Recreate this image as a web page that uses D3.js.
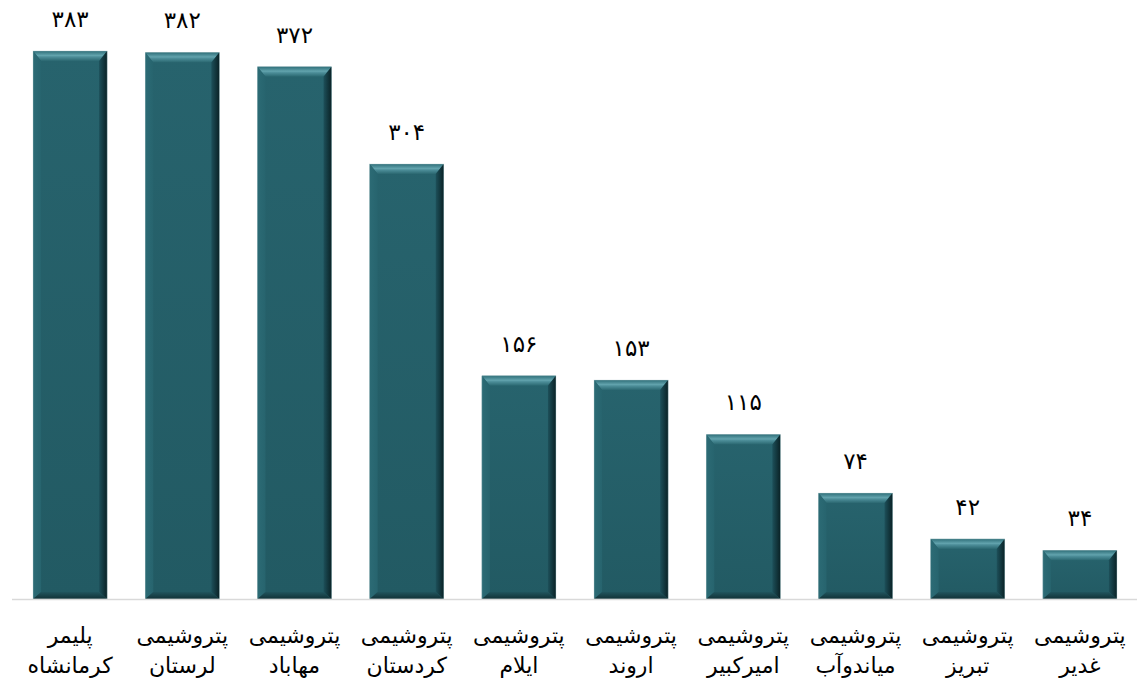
<!DOCTYPE html>
<html>
<head>
<meta charset="utf-8">
<script src="https://cdn.jsdelivr.net/npm/d3@7"></script>
<style>
  body { margin: 0; background: #fff; }
  svg { display: block; }
  text { font-family: "DejaVu Sans", sans-serif; fill: #000; }
</style>
</head>
<body>
<div id="chart"></div>
<script>
// chart data
const companies = [
  ["پلیمر", "کرمانشاه"],
  ["پتروشیمی", "لرستان"],
  ["پتروشیمی", "مهاباد"],
  ["پتروشیمی", "کردستان"],
  ["پتروشیمی", "ایلام"],
  ["پتروشیمی", "اروند"],
  ["پتروشیمی", "امیرکبیر"],
  ["پتروشیمی", "میاندوآب"],
  ["پتروشیمی", "تبریز"],
  ["پتروشیمی", "غدیر"]
];
const values = [383, 382, 372, 304, 156, 153, 115, 74, 42, 34];

const width = 1141, height = 683;
const margin = { top: 51, right: 5, bottom: 84, left: 14 };

const faDigits = "۰۱۲۳۴۵۶۷۸۹";
const toFa = n => String(n).replace(/\d/g, c => faDigits[+c]);

const svg = d3.select("#chart").append("svg")
  .attr("width", width)
  .attr("height", height);

const x = d3.scaleBand()
  .domain(d3.range(companies.length))
  .range([margin.left, width - margin.right])
  .paddingInner(0.34)
  .paddingOuter(0.17);

const y = d3.scaleLinear()
  .domain([0, d3.max(values)])
  .range([height - margin.bottom, margin.top]);

// gradients for the bevel faces
const defs = svg.append("defs");
function grad(id, x2, y2, stops) {
  const g = defs.append("linearGradient").attr("id", id)
    .attr("x1", 0).attr("y1", 0).attr("x2", x2).attr("y2", y2);
  stops.forEach(s => g.append("stop").attr("offset", s[0]).attr("stop-color", s[1]));
}
grad("g-top", 0, 1, [[0, "#2f6f79"], [0.45, "#62a3ad"], [0.6, "#4c8d98"], [1, "#2a6770"]]);
grad("g-left", 1, 0, [[0, "#2c6b75"], [1, "#27646e"]]);
grad("g-right", 1, 0, [[0, "#1d505a"], [1, "#0a2226"]]);
grad("g-bottom", 0, 1, [[0, "#21555e"], [1, "#113136"]]);
grad("g-face", 0, 1, [[0, "#27636d"], [1, "#225a63"]]);

const bev = { t: 10, s: 8, b: 7 };

const bars = svg.append("g")
  .selectAll("g")
  .data(values)
  .join("g")
  .attr("transform", (d, i) => `translate(${x(i)},${y(d)})`);

bars.each(function(d) {
  const g = d3.select(this);
  const w = x.bandwidth();
  const h = y(0) - y(d);
  g.append("rect").attr("width", w).attr("height", h).attr("fill", "url(#g-face)");
  const pts = a => a.map(p => p.join(",")).join(" ");
  g.append("polygon").attr("fill", "url(#g-top)")
    .attr("points", pts([[0, 0], [w, 0], [w - bev.s, bev.t], [bev.s, bev.t]]));
  g.append("polygon").attr("fill", "url(#g-left)")
    .attr("points", pts([[0, 0], [bev.s, bev.t], [bev.s, h - bev.b], [0, h]]));
  g.append("polygon").attr("fill", "url(#g-right)")
    .attr("points", pts([[w, 0], [w, h], [w - bev.s, h - bev.b], [w - bev.s, bev.t]]));
  g.append("polygon").attr("fill", "url(#g-bottom)")
    .attr("points", pts([[0, h], [bev.s, h - bev.b], [w - bev.s, h - bev.b], [w, h]]));
  g.append("rect").attr("width", w).attr("height", h)
    .attr("fill", "none").attr("stroke", "#a9c4c8").attr("stroke-width", 0.6).attr("stroke-opacity", 0.6);
});

// value labels
svg.append("g")
  .selectAll("text")
  .data(values)
  .join("text")
  .attr("x", (d, i) => x(i) + x.bandwidth() / 2)
  .attr("y", d => y(d) - 24)
  .attr("text-anchor", "middle")
  .style("font-size", "23px")
  .text(d => toFa(d));

// baseline
svg.append("line")
  .attr("x1", 12).attr("x2", width - 4)
  .attr("y1", y(0) + 0.5).attr("y2", y(0) + 0.5)
  .attr("stroke", "#d9d9d9").attr("stroke-width", 1.5);

// category labels, two lines each
const labels = svg.append("g")
  .selectAll("text")
  .data(companies)
  .join("text")
  .attr("text-anchor", "middle")
  .attr("direction", "rtl")
  .style("font-size", "22px");
labels.each(function(d, i) {
  const t = d3.select(this);
  const cx = x(i) + x.bandwidth() / 2;
  d.forEach((line, k) => {
    t.append("tspan").attr("x", cx).attr("y", 643 + k * 30).text(line);
  });
});
</script>
</body>
</html>
